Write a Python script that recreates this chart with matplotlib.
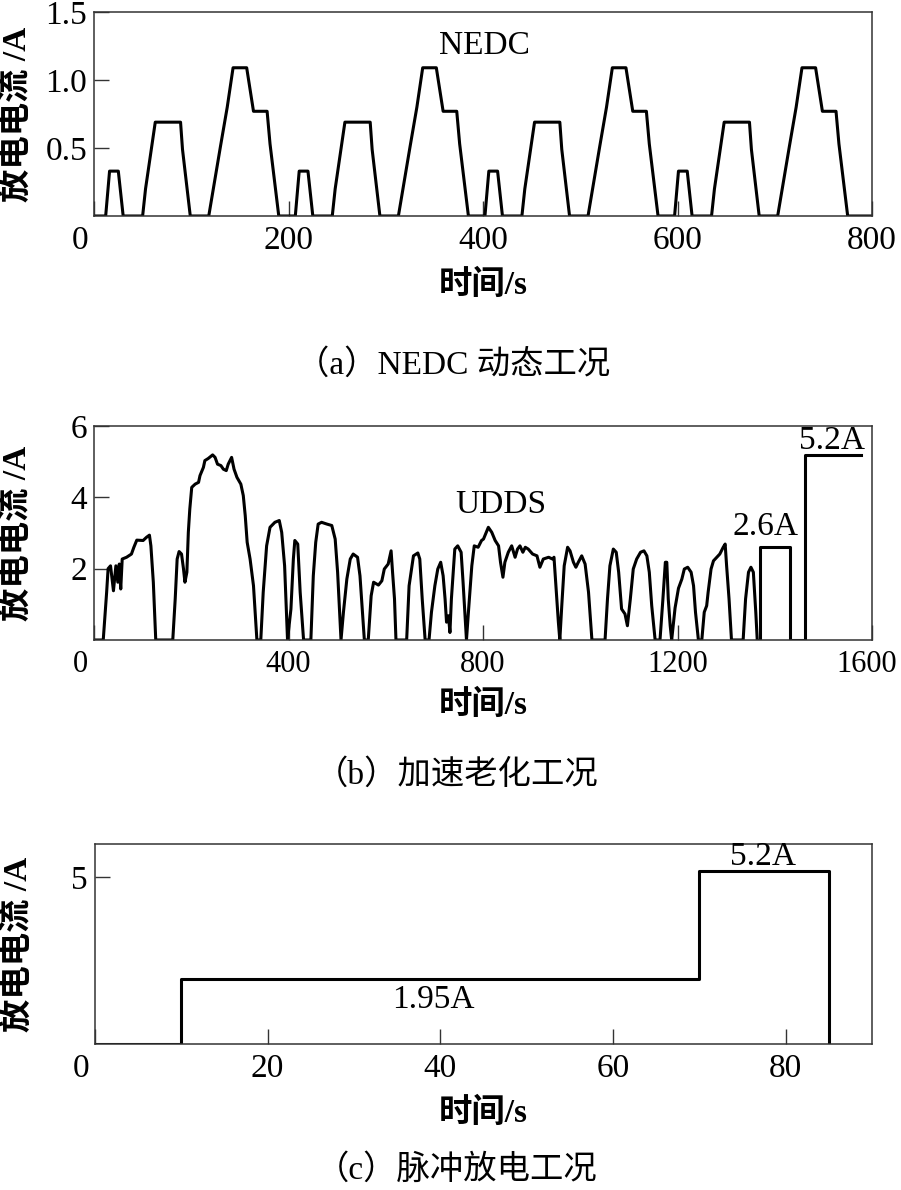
import numpy as np
import matplotlib
matplotlib.use('Agg')
from matplotlib import pyplot as plt
import matplotlib.transforms as mtransforms

fam = ['Liberation Serif', 'Noto Sans CJK SC']
plt.rcParams['font.family'] = fam

# (a) NEDC: 4 ECE cycles
nedc_t = [0, 12, 16, 25, 30, 50, 53, 63, 89, 91, 99, 118, 130, 137, 143, 157, 164, 178, 181, 190,
          207, 211, 220, 225, 245, 248, 258, 284, 286, 294, 313, 325, 332, 338, 352, 359, 373, 376, 385,
          402, 406, 415, 420, 440, 443, 453, 479, 481, 489, 508, 520, 527, 533, 547, 554, 568, 571, 580,
          597, 601, 610, 615, 635, 638, 648, 674, 676, 684, 703, 715, 722, 728, 742, 749, 763, 766, 775,
          800]
nedc_i = [0, 0, .33, .33, 0, 0, .2, .69, .69, .49, 0, 0, .51, .8, 1.09, 1.09, .77, .77, .53, 0,
          0, .33, .33, 0, 0, .2, .69, .69, .49, 0, 0, .51, .8, 1.09, 1.09, .77, .77, .53, 0,
          0, .33, .33, 0, 0, .2, .69, .69, .49, 0, 0, .51, .8, 1.09, 1.09, .77, .77, .53, 0,
          0, .33, .33, 0, 0, .2, .69, .69, .49, 0, 0, .51, .8, 1.09, 1.09, .77, .77, .53, 0,
          0]

# (b) UDDS + two pulses
udds_t = [0, 19, 26, 29, 34, 40, 45, 49, 52, 55, 58, 67, 77, 82, 88, 101, 108, 114, 117, 122, 127,
          162, 167, 171, 175, 180, 184, 187, 191, 194, 197, 201, 208, 215, 218, 225, 228, 235, 244, 249,
          254, 261, 266, 272, 276, 283, 288, 294, 302, 307, 311, 315, 321, 328, 335,
          343, 348, 355, 362, 372, 381, 386, 392, 398,
          405, 410, 413, 419, 424, 431,
          446, 451, 456, 461, 468, 479, 489, 496, 501, 508,
          513, 520, 527, 533, 542, 547, 556,
          564, 570, 575, 585, 592, 597, 605, 611, 614, 618, 621,
          643, 648, 657, 666, 670, 675, 681,
          689, 694, 701, 707, 713, 718, 722, 725, 729, 732, 735, 742, 748, 755, 759, 766,
          770, 777, 782, 790, 797, 801, 811, 818, 825, 832, 836, 841, 845, 852, 859, 866, 871, 876, 882,
          887, 893, 902, 911, 917, 924, 935, 943, 946, 950, 955, 958,
          962, 967, 974, 979, 986, 991, 996, 1003, 1010, 1017, 1024,
          1051, 1056, 1061, 1068, 1074, 1079, 1085, 1092, 1097, 1103, 1109, 1116, 1124, 1131, 1137, 1142,
          1147, 1154,
          1164, 1170, 1175, 1178, 1181, 1185, 1188,
          1195, 1202, 1209, 1214, 1221, 1228, 1233, 1237, 1243,
          1250, 1255, 1260, 1263, 1269, 1274, 1281, 1287, 1294, 1298, 1301, 1306, 1311,
          1335, 1340, 1346, 1351, 1356, 1361, 1364]
udds_i = [0, 0, 1.34, 2.0, 2.08, 1.38, 2.08, 1.62, 2.13, 1.43, 2.27, 2.32, 2.41, 2.6, 2.8, 2.79, 2.88, 2.94, 2.64, 1.62, 0,
          0, 1.15, 2.27, 2.48, 2.41, 2.0, 1.62, 1.9, 3.02, 3.67, 4.28, 4.37, 4.42, 4.61, 4.84, 5.03, 5.09, 5.19, 5.12,
          4.93, 4.89, 4.79, 4.75, 4.93, 5.12, 4.79, 4.56, 4.37, 4.05, 3.49, 2.74, 2.27, 1.52, 0,
          0, 1.34, 2.64, 3.16, 3.3, 3.35, 3.02, 2.08, 0,
          0.87, 2.27, 2.79, 2.69, 1.34, 0,
          0, 1.8, 2.74, 3.25, 3.3, 3.25, 3.21, 2.83, 1.9, 0,
          0.78, 1.71, 2.27, 2.41, 2.32, 1.8, 0,
          0, 1.24, 1.62, 1.54, 1.66, 1.99, 2.13, 2.5, 1.9, 1.15, 0,
          0, 1.52, 2.36, 2.44, 2.27, 1.15, 0,
          0, 0.78, 1.52, 1.99, 2.18, 1.8, 1.15, 0.5, 0.68, 0.21, 1.15, 2.55, 2.64, 2.46, 1.62, 0,
          0.78, 2.08, 2.64, 2.6, 2.79, 2.83, 3.16, 3.02, 2.79, 2.64, 2.18, 1.76, 2.18, 2.46, 2.64, 2.32, 2.55, 2.64, 2.46,
          2.6, 2.55, 2.41, 2.36, 2.04, 2.27, 2.32, 2.27, 2.32, 1.52, 0.5, 0,
          0.96, 2.08, 2.6, 2.5, 2.18, 2.04, 2.18, 2.36, 2.13, 1.34, 0,
          0, 1.15, 2.08, 2.55, 2.46, 1.9, 0.87, 0.73, 0.4, 1.15, 1.99, 2.27, 2.46, 2.5, 2.36, 1.9,
          0.96, 0,
          0, 1.15, 2.18, 2.18, 1.15, 0.4, 0,
          0.9, 1.45, 1.71, 1.99, 2.04, 1.9, 1.52, 0.78, 0,
          0, 0.78, 0.96, 1.34, 1.99, 2.22, 2.32, 2.41, 2.6, 2.69, 2.08, 1.15, 0,
          0, 1.15, 1.9, 2.04, 1.9, 0.78, 0]
pulse_t = [1364, 1370, 1370, 1431, 1431, 1462, 1462, 1578]
pulse_i = [0, 0, 2.6, 2.6, 0, 0, 5.2, 5.2]

# (c) pulse discharge
step_t = [0, 10, 10, 70, 70, 85, 85]
step_i = [0, 0, 1.95, 1.95, 5.2, 5.2, 0]

W, H = 901, 1190
fig = plt.figure(figsize=(W/100, H/100), dpi=100)

def make_ax(l, t, r, b):
    return fig.add_axes([l/W, 1-b/H, (r-l)/W, (b-t)/H])

axa = make_ax(94, 12, 872, 216)
axb = make_ax(94, 426, 872, 640)
axc = make_ax(95, 844, 872, 1044)

lw = 2.2
axa.plot(nedc_t, nedc_i, color='k', lw=lw)
axb.plot(udds_t, udds_i, color='k', lw=lw)
axb.plot(pulse_t, pulse_i, color='k', lw=lw)
axc.plot(step_t, step_i, color='k', lw=lw)

axa.set_xlim(0, 800); axa.set_ylim(0, 1.5)
axa.set_xticks([0, 200, 400, 600, 800]); axa.set_yticks([0.5, 1.0, 1.5])
axa.set_yticklabels(['0.5', '1.0', '1.5'])
axb.set_xlim(0, 1600); axb.set_ylim(0, 6)
axb.set_xticks([0, 400, 800, 1200, 1600]); axb.set_yticks([2, 4, 6])
axc.set_xlim(0, 90); axc.set_ylim(0, 6)
axc.set_xticks([0, 20, 40, 60, 80]); axc.set_yticks([5])

fs = 24
for ax in (axa, axb, axc):
    for s in ax.spines.values():
        s.set_linewidth(1.1)
        s.set_color('#333333')
    ax.tick_params(direction='in', length=11, width=1, color='#333333',
                   labelsize=fs, pad=5)
    ax.tick_params(axis='x', pad=7)
    ax.set_xlabel('时间/s', fontsize=fs, fontweight='bold', labelpad=10)
    ax.set_ylabel('放电电流 /A', fontsize=fs, fontweight='bold')
    ax.yaxis.set_label_coords(-0.079, 0.5)
    lab0 = ax.get_xticklabels()[0]
    lab0.set_transform(lab0.get_transform() +
                       mtransforms.ScaledTranslation(-0.14, 0, fig.dpi_scale_trans))

axb.tick_params(axis='x', labelsize=22)
axb.xaxis.labelpad = 8
labl = axb.get_xticklabels()[-1]
labl.set_transform(labl.get_transform() +
                   mtransforms.ScaledTranslation(-0.05, 0, fig.dpi_scale_trans))

axa.text(401, 1.25, 'NEDC', fontsize=fs, ha='center', va='center')
axb.text(837, 3.78, 'UDDS', fontsize=fs, ha='center', va='center')
axb.text(1382, 3.17, '2.6A', fontsize=fs, ha='center', va='center')
axb.text(1517, 5.15, '5.2A', fontsize=fs, ha='center', va='bottom')
axc.text(77.4, 5.15, '5.2A', fontsize=fs, ha='center', va='bottom')
axc.text(39.2, 1.32, '1.95A', fontsize=fs, ha='center', va='center')

fig.text(0.503, 1-365/H, '（a）NEDC 动态工况', fontsize=fs, ha='center', va='center')
fig.text(0.507, 1-775/H, '（b）加速老化工况', fontsize=fs, ha='center', va='center')
fig.text(0.507, 1-1170/H, '（c）脉冲放电工况', fontsize=fs, ha='center', va='center')

fig.savefig('out.png', dpi=100)
